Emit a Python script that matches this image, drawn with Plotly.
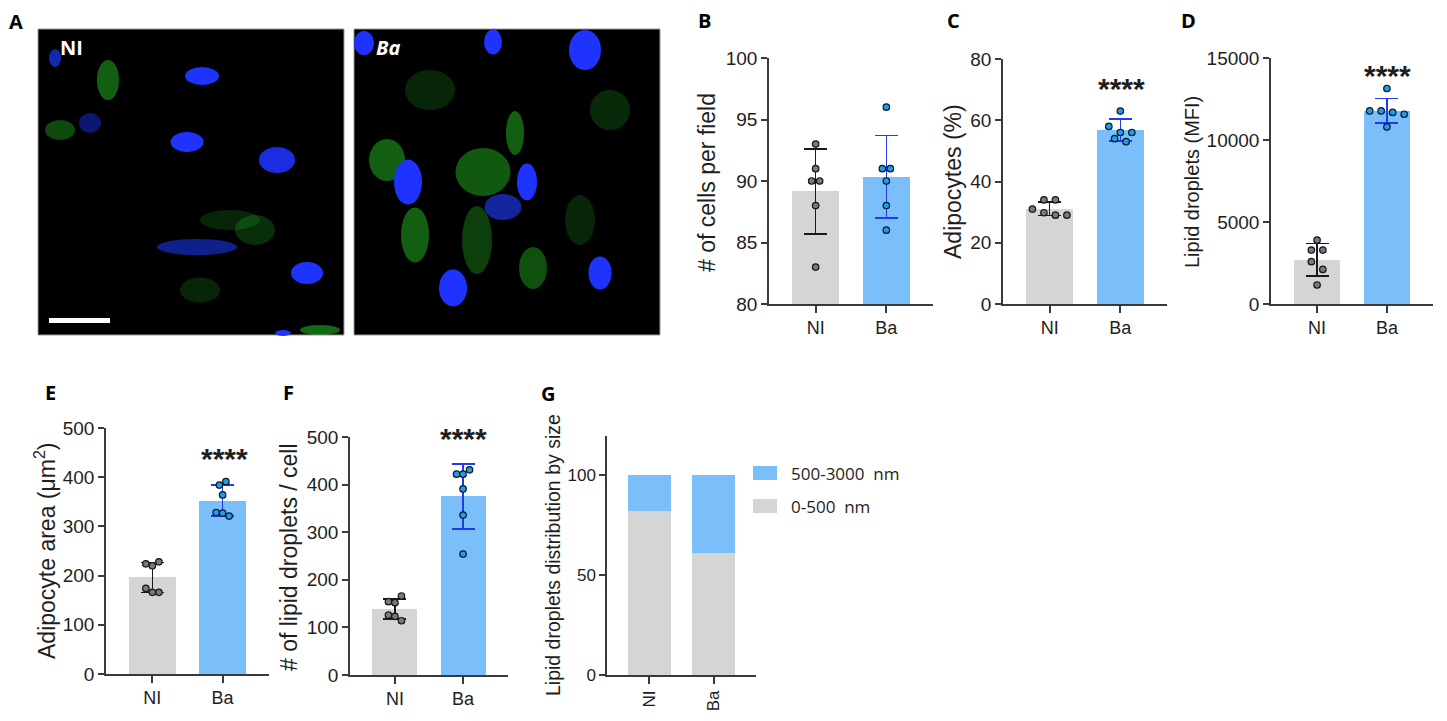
import plotly.graph_objects as go

W, H = 1447, 721

# ---------------- data ----------------
categories = ["NI", "Ba"]

cells_NI = [93, 91, 90, 90, 88, 83]
cells_Ba = [96, 91, 91, 90, 88, 86]
cells_mean = [89.15, 90.35]
cells_sd = [3.45, 3.35]

adipo_NI = [34, 34, 31, 29.8, 29, 29]
adipo_Ba = [63, 58, 56, 56, 54, 53]
adipo_mean = [31.1, 56.8]
adipo_sd = [2.25, 3.6]

lipid_NI = [3900, 3290, 3290, 2580, 2110, 1160]
lipid_Ba = [13140, 11770, 11770, 11680, 11570, 10800]
lipid_mean = [2700, 11785]
lipid_sd = [995, 745]

area_NI = [224, 220, 228, 174, 166, 166]
area_Ba = [384, 391, 364, 328, 327, 321]
area_mean = [196.4, 352.5]
area_sd = [30.6, 31.3]

drops_NI = [154, 152, 166, 126, 123, 114]
drops_Ba = [422, 422, 431, 391, 336, 254]
drops_mean = [138.5, 375.5]
drops_sd = [21.4, 68.4]

size_small = [82, 61]   # 0-500 nm share (%)
size_large = [18, 39]   # 500-3000 nm share (%)
size_labels = ["0-500  nm", "500-3000  nm"]

significance = "****"

# ---------------- styling ----------------
FONT = "Liberation Sans, Arial, sans-serif"
GRAY_BAR = "#d5d5d5"
BLUE_BAR = "#7abffa"
GRAY_PT = "#7a7a7a"
BLUE_PT = "#1a9ff0"
ERR_NI = "#1a1a1a"
ERR_BA = "#2438ee"
AXC = "#3a3a3a"
TXT = "#1e1e1e"
XR = [-0.66, 1.66]
BARW = 0.66


def px(x):
    return x / W


def py(y):
    return 1 - y / H


fig = go.Figure()
annotations = []
shapes = []


def swarm(vals, pxu, pxc, step, thr=8.0):
    groups, cur = [], [0]
    for j in range(1, len(vals)):
        if abs(vals[j] - vals[cur[0]]) * pxu <= thr:
            cur.append(j)
        else:
            groups.append(cur)
            cur = [j]
    groups.append(cur)
    off = [0.0] * len(vals)
    for g in groups:
        n = len(g)
        for r, j in enumerate(g):
            off[j] = (r - (n - 1) / 2) * step / pxc
    return off


def axis_style(k, xdom, ydom, yr, ytv, ytickfmt=None, xangle=0, xfs=18, yfs=19):
    xs = "xaxis" if k == 1 else f"xaxis{k}"
    ys = "yaxis" if k == 1 else f"yaxis{k}"
    ya = "y" if k == 1 else f"y{k}"
    xa = "x" if k == 1 else f"x{k}"
    common = dict(showline=True, linecolor=AXC, linewidth=1.5, ticks="outside",
                  tickcolor=AXC, tickwidth=1.5, showgrid=False, zeroline=False,
                  fixedrange=True, automargin=False)
    yax = dict(domain=[py(ydom[1]), py(ydom[0])], range=yr, anchor=xa,
               tickvals=ytv, ticklen=6,
               tickfont=dict(family=FONT, size=yfs, color=TXT), **common)
    if ytickfmt:
        yax["tickformat"] = ytickfmt
    fig.update_layout(**{
        xs: dict(domain=[px(xdom[0]), px(xdom[1])], range=XR, anchor=ya,
                 tickvals=[0, 1], ticktext=categories, ticklen=7,
                 tickangle=xangle,
                 tickfont=dict(family=FONT, size=xfs, color=TXT), **common),
        ys: yax,
    })
    return xa, ya


def add_panel(k, xdom, ydom, yr, ytv, ni, ba, means, sds, step, title, tpos,
              tsize, star, ytickfmt=None):
    xa, ya = axis_style(k, xdom, ydom, yr, ytv, ytickfmt)
    pxu = (ydom[1] - ydom[0]) / (yr[1] - yr[0])
    pxc = (xdom[1] - xdom[0]) / (XR[1] - XR[0])
    cols = [GRAY_BAR, BLUE_BAR]
    ecols = [ERR_NI, ERR_BA]
    for i in range(2):
        fig.add_trace(go.Bar(
            x=[i], y=[means[i]], width=BARW, marker=dict(color=cols[i], line=dict(width=0)),
            error_y=dict(type="data", array=[sds[i]], color=ecols[i], thickness=1.6, width=11.5),
            xaxis=xa, yaxis=ya, showlegend=False, hoverinfo="skip"))
    for i, (vals, fc) in enumerate([(ni, GRAY_PT), (ba, BLUE_PT)]):
        off = swarm(vals, pxu, pxc, step)
        fig.add_trace(go.Scatter(
            x=[i + o for o in off], y=vals, mode="markers", cliponaxis=False,
            marker=dict(size=6.5, color=fc, line=dict(color="#101820", width=1.2)),
            xaxis=xa, yaxis=ya, showlegend=False, hoverinfo="skip"))
    annotations.append(dict(text=title, x=px(tpos[0]), y=py(tpos[1]), xref="paper", yref="paper",
                            textangle=-90, showarrow=False, xanchor="center", yanchor="middle",
                            font=dict(family=FONT, size=tsize, color=TXT)))
    if star:
        annotations.append(dict(text=f"<b>{significance}</b>", x=px(star[0]), y=py(star[1]), xref="paper",
                                yref="paper", showarrow=False, xanchor="center", yanchor="middle",
                                font=dict(family=FONT, size=30, color=TXT)))


# B
add_panel(1, (769, 933), (58, 304), [80, 100], [80, 85, 90, 95, 100], cells_NI, cells_Ba,
          cells_mean, cells_sd, 8, "# of cells per field", (707, 183), 23, None)
# C
add_panel(2, (1003, 1167), (59, 304), [0, 80], [0, 20, 40, 60, 80], adipo_NI, adipo_Ba,
          adipo_mean, adipo_sd, 11.5, "Adipocytes (%)", (953, 182), 23, (1121, 89))
# D
add_panel(3, (1271, 1433), (58, 304), [0, 15000], [0, 5000, 10000, 15000], lipid_NI, lipid_Ba,
          lipid_mean, lipid_sd, 11.5, "Lipid droplets (MFI)", (1192, 182), 20, (1387, 76),
          ytickfmt="d")
# E
add_panel(4, (106, 269), (428, 674), [0, 500], [0, 100, 200, 300, 400, 500], area_NI, area_Ba,
          area_mean, area_sd, 6.5, "Adipocyte area (\u03bcm<sup>2</sup>)", (45, 551), 23, (224, 458))
# F
add_panel(5, (350, 508), (437, 675), [0, 500], [0, 100, 200, 300, 400, 500], drops_NI, drops_Ba,
          drops_mean, drops_sd, 6.5, "# of lipid droplets / cell", (289, 557), 23, (463, 439))

# G (stacked distribution)
xa, ya = axis_style(6, (607, 756), (436, 675), [0, 119.5], [0, 50, 100], xangle=-90, xfs=17, yfs=17)
fig.add_trace(go.Bar(x=[0, 1], y=size_small, width=BARW, marker=dict(color=GRAY_BAR, line=dict(width=0)),
                     xaxis=xa, yaxis=ya, showlegend=False, name=size_labels[0], hoverinfo="skip"))
fig.add_trace(go.Bar(x=[0, 1], y=size_large, width=BARW, marker=dict(color=BLUE_BAR, line=dict(width=0)),
                     xaxis=xa, yaxis=ya, showlegend=False, name=size_labels[1], hoverinfo="skip"))
annotations.append(dict(text="Lipid droplets distribution by size", x=px(553), y=py(555), xref="paper",
                        yref="paper", textangle=-90, showarrow=False, xanchor="center", yanchor="middle",
                        font=dict(family=FONT, size=19.5, color=TXT)))
# manual legend for G
for (y0, y1, col, lab) in [(466, 480, BLUE_BAR, size_labels[1]), (499, 513, GRAY_BAR, size_labels[0])]:
    shapes.append(dict(type="rect", xref="paper", yref="paper", x0=px(753), x1=px(777),
                       y0=py(y1), y1=py(y0), fillcolor=col, line=dict(width=0)))
    annotations.append(dict(text=lab, x=px(789), y=py((y0 + y1) / 2), xref="paper", yref="paper",
                            showarrow=False, xanchor="left", yanchor="middle",
                            font=dict(family="Open Sans", size=17, color=TXT)))

# ---------------- panel A (micrograph placeholders) ----------------
for (x0, x1) in [(38, 344), (354, 660)]:
    shapes.append(dict(type="rect", xref="paper", yref="paper", x0=px(x0), x1=px(x1),
                       y0=py(335), y1=py(29), fillcolor="black", line=dict(color="#9a9a9a", width=1),
                       layer="below"))

green_blobs = [  # (cx, cy, w, h, alpha)
    (108, 80, 22, 40, 0.45), (60, 130, 30, 20, 0.35), (230, 220, 60, 20, 0.18),
    (255, 230, 40, 30, 0.22), (200, 290, 40, 25, 0.18), (320, 330, 40, 10, 0.5),
    (387, 160, 36, 42, 0.45), (415, 235, 28, 55, 0.45), (483, 172, 55, 48, 0.42),
    (515, 133, 18, 44, 0.45), (533, 268, 28, 42, 0.38), (477, 240, 30, 68, 0.3),
    (430, 90, 50, 40, 0.18), (610, 110, 40, 40, 0.2), (580, 220, 30, 50, 0.18),
]
for cx, cy, w, h, a in green_blobs:
    shapes.append(dict(type="circle", xref="paper", yref="paper", x0=px(cx - w / 2), x1=px(cx + w / 2),
                       y0=py(cy + h / 2), y1=py(cy - h / 2), fillcolor=f"rgba(40,210,40,{a})",
                       line=dict(width=0), layer="below"))

nuclei = [  # (cx, cy, w, h, color)
    (202, 76, 34, 18, "#1f33ff"), (187, 142, 33, 20, "#1f33ff"), (277, 160, 36, 26, "#1a2de0"),
    (307, 273, 32, 22, "#1f33ff"), (197, 247, 80, 16, "#10208a"), (90, 123, 22, 20, "#0c1870"),
    (55, 58, 12, 18, "#1526b0"), (283, 333, 16, 6, "#1f33ff"),
    (364, 43, 20, 24, "#1f33ff"), (493, 42, 18, 25, "#1f33ff"), (585, 50, 32, 40, "#1f33ff"),
    (408, 182, 28, 45, "#1f33ff"), (527, 182, 20, 37, "#1f33ff"), (503, 207, 37, 26, "#14249c"),
    (453, 288, 28, 37, "#1f33ff"), (600, 273, 23, 33, "#1f33ff"),
]
for cx, cy, w, h, c in nuclei:
    shapes.append(dict(type="circle", xref="paper", yref="paper", x0=px(cx - w / 2), x1=px(cx + w / 2),
                       y0=py(cy + h / 2), y1=py(cy - h / 2), fillcolor=c, line=dict(width=0),
                       layer="below"))

# scale bar
shapes.append(dict(type="rect", xref="paper", yref="paper", x0=px(49), x1=px(110), y0=py(323), y1=py(318),
                   fillcolor="white", line=dict(width=0)))

annotations.append(dict(text="<b>NI</b>", x=px(58), y=py(48), xref="paper", yref="paper", showarrow=False,
                        xanchor="left", yanchor="middle", font=dict(family="Open Sans", size=20, color="white")))
annotations.append(dict(text="<b><i>Ba</i></b>", x=px(374), y=py(48), xref="paper", yref="paper",
                        showarrow=False, xanchor="left", yanchor="middle",
                        font=dict(family="Open Sans", size=20, color="white")))

# panel letters
for lab, (lx, ly) in {"A": (16, 22), "B": (704, 21), "C": (953, 21), "D": (1188, 21),
                      "E": (50, 392), "F": (288, 392), "G": (548, 393)}.items():
    annotations.append(dict(text=f"<b>{lab}</b>", x=px(lx), y=py(ly), xref="paper", yref="paper",
                            showarrow=False, xanchor="center", yanchor="middle",
                            font=dict(family="Open Sans", size=20, color="black")))

fig.update_layout(width=W, height=H, autosize=False, margin=dict(l=0, r=0, t=0, b=0, pad=0, autoexpand=False),
                  paper_bgcolor="white", plot_bgcolor="rgba(0,0,0,0)", barmode="stack",
                  showlegend=False, annotations=annotations, shapes=shapes,
                  font=dict(family=FONT, color=TXT))

fig.write_html("out.html", config={"displayModeBar": False},
               post_script="document.body.style.margin='0';document.body.style.overflow='hidden';")
